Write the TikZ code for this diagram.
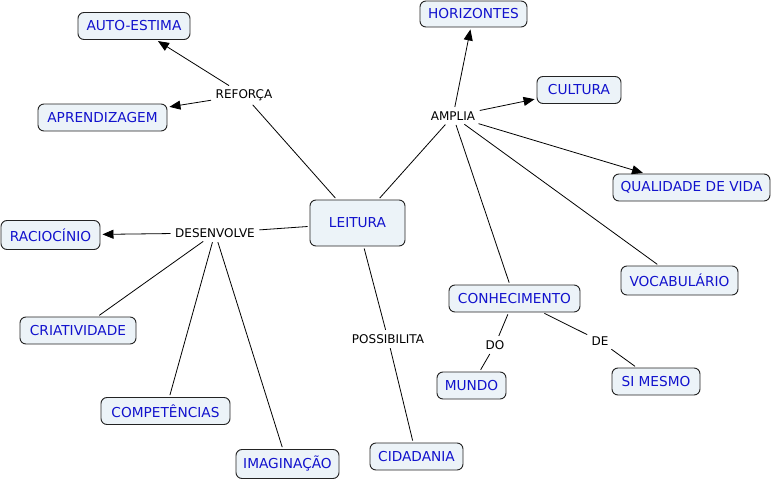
\documentclass[tikz,border=0pt]{standalone}
\usepackage{fontspec}
\setmainfont{DejaVu Sans}
\usetikzlibrary{arrows.meta}
\definecolor{cfill}{RGB}{236,243,248}
\definecolor{ctext}{RGB}{18,18,205}
\definecolor{cborder}{RGB}{35,35,35}
\tikzset{
  concept/.style={draw=cborder, fill=cfill, rounded corners=6pt, line width=0.95pt,
    text=ctext, font=\fontsize{13.7}{14}\selectfont, minimum height=27pt, inner xsep=2pt, align=center},
  lbl/.style={font=\fontsize{12}{13}\selectfont, text=black, inner sep=2.5pt},
  link/.style={draw=black, line width=0.8pt, shorten <=2pt, shorten >=2pt},
  arr/.style={link, -{Triangle[length=11pt,width=9pt]}}
}
\begin{document}
\begin{tikzpicture}[x=1pt,y=-1pt]
\useasboundingbox (0,0) rectangle (772,483);
% concepts
\node[concept, minimum width=95pt, minimum height=46pt] (leit) at (357.5,223) {LEITURA};
\node[concept, minimum width=112pt] (auto) at (134,26) {AUTO-ESTIMA};
\node[concept, minimum width=129pt] (apre) at (102.5,117.5) {APRENDIZAGEM};
\node[concept, minimum width=107pt, minimum height=26pt] (hori) at (473.5,14) {HORIZONTES};
\node[concept, minimum width=84pt] (cult) at (579,90) {CULTURA};
\node[concept, minimum width=157pt] (qual) at (691.5,187.5) {QUALIDADE DE VIDA};
\node[concept, minimum width=99pt, minimum height=29pt] (raci) at (50.5,235) {RACIOCÍNIO};
\node[concept, minimum width=116pt] (cria) at (78,330.5) {CRIATIVIDADE};
\node[concept, minimum width=129pt] (comp) at (165.5,411) {COMPETÊNCIAS};
\node[concept, minimum width=103pt, minimum height=29pt] (imag) at (287.5,464) {IMAGINAÇÃO};
\node[concept, minimum width=117pt, minimum height=29pt] (voca) at (679.5,280.5) {VOCABULÁRIO};
\node[concept, minimum width=131pt] (conh) at (514.5,298.5) {CONHECIMENTO};
\node[concept, minimum width=69pt] (mund) at (471.5,385.5) {MUNDO};
\node[concept, minimum width=88pt] (sime) at (656,381.5) {SI MESMO};
\node[concept, minimum width=93pt] (cida) at (416.5,456.5) {CIDADANIA};
% linking phrases
\node[lbl] (refo) at (244,95) {REFORÇA};
\node[lbl] (ampl) at (453,116) {AMPLIA};
\node[lbl] (dese) at (215,233) {DESENVOLVE};
\node[lbl] (poss) at (388,339) {POSSIBILITA};
\node[lbl] (do) at (495,345) {DO};
\node[lbl] (de) at (600,341) {DE};
% connectors
\draw[link] (leit) -- (refo);
\draw[arr] (refo) -- (auto);
\draw[arr] (refo) -- (apre);
\draw[link] (leit) -- (ampl);
\draw[arr] (ampl) -- (hori);
\draw[arr] (ampl) -- (cult);
\draw[arr] (ampl) -- (qual);
\draw[link] (ampl) -- (voca);
\draw[link] (ampl) -- (conh);
\draw[link] (leit) -- (dese);
\draw[arr] (dese) -- (raci);
\draw[link] (dese) -- (cria);
\draw[link] (dese) -- (comp);
\draw[link] (dese) -- (imag);
\draw[link] (leit) -- (poss);
\draw[link] (poss) -- (cida);
\draw[link] (conh) -- (do);
\draw[link] (do) -- (mund);
\draw[link] (conh) -- (de);
\draw[link] (de) -- (sime);
\end{tikzpicture}
\end{document}
